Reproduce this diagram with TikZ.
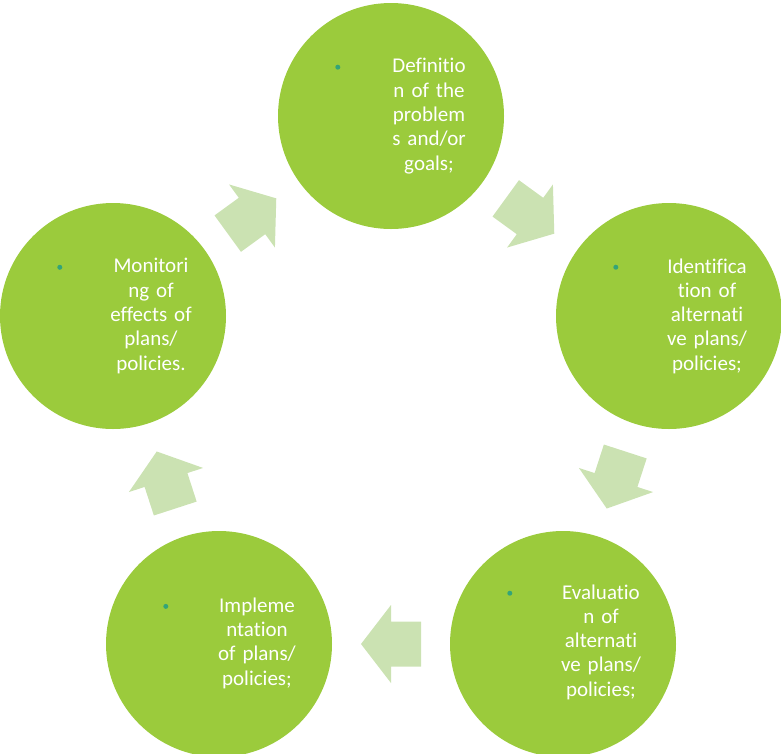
\documentclass[tikz,border=0pt]{standalone}
\usepackage{fontspec}
\setmainfont{Carlito}[RawFeature = {-liga,-clig,-dlig}]
\usetikzlibrary{calc}

\definecolor{circlegreen}{RGB}{155,203,60}
\definecolor{arrowgreen}{RGB}{203,226,178}
\definecolor{bulletteal}{RGB}{52,164,120}

\begin{document}
\begin{tikzpicture}[x = 1pt, y = -1pt]
  % styles
  \tikzstyle{stage} = [circle, fill = circlegreen, minimum size = 226pt, inner sep = 0pt]
  \tikzstyle{stage text} = [text = white, align = center, text width = 86pt, inner sep = 0pt,
    font = \fontsize{21}{24.3}\selectfont]
  \tikzstyle{bullet} = [circle, fill = bulletteal, minimum size = 5pt, inner sep = 0pt]
  \tikzset{block arrow/.pic = {
    \fill[arrowgreen] (30, 0) -- (0, 39) -- (0, 22.5) -- (-30, 22.5)
      -- (-30, -22.5) -- (0, -22.5) -- (0, -39) -- cycle;
  }}

  % frame
  \useasboundingbox (0, 0) rectangle (781, 753);

  % circles
  \node[stage] (def) at (391, 116) {};
  \node[stage] (ident) at (669, 316) {};
  \node[stage] (eval) at (563, 644) {};
  \node[stage] (impl) at (219, 644) {};
  \node[stage] (mon) at (113, 316) {};

  % texts
  \node[stage text] (def text) at ($(def) + (38, 0)$)
    {Definitio\\n of the\\problem\\s and/or\\goals;};
  \node[stage text] (ident text) at ($(ident) + (38, 0)$)
    {Identifica\\tion of\\alternati\\ve plans/\\policies;};
  \node[stage text] (eval text) at ($(eval) + (38, -2)$)
    {Evaluatio\\n of\\alternati\\ve plans/\\policies;};
  \node[stage text] (impl text) at ($(impl) + (38, -1)$)
    {Impleme\\ntation\\of plans/\\policies;};
  \node[stage text] (mon text) at ($(mon) + (38, 0)$)
    {Monitori\\ng of\\effects of\\plans/\\policies.};

  % bullets
  \foreach \t in {def text, ident text, eval text, impl text, mon text}
    \node[bullet] at ($(\t.north west) + (-48, 9)$) {};

  % arrows
  \pic[rotate = -36] at ($(def)!0.5!(ident)$) {block arrow};
  \pic[rotate = -108] at ($(ident)!0.5!(eval)$) {block arrow};
  \pic[rotate = 180] at ($(eval)!0.5!(impl)$) {block arrow};
  \pic[rotate = 108] at ($(impl)!0.5!(mon)$) {block arrow};
  \pic[rotate = 36] at ($(mon)!0.5!(def)$) {block arrow};

\end{tikzpicture}
\end{document}
